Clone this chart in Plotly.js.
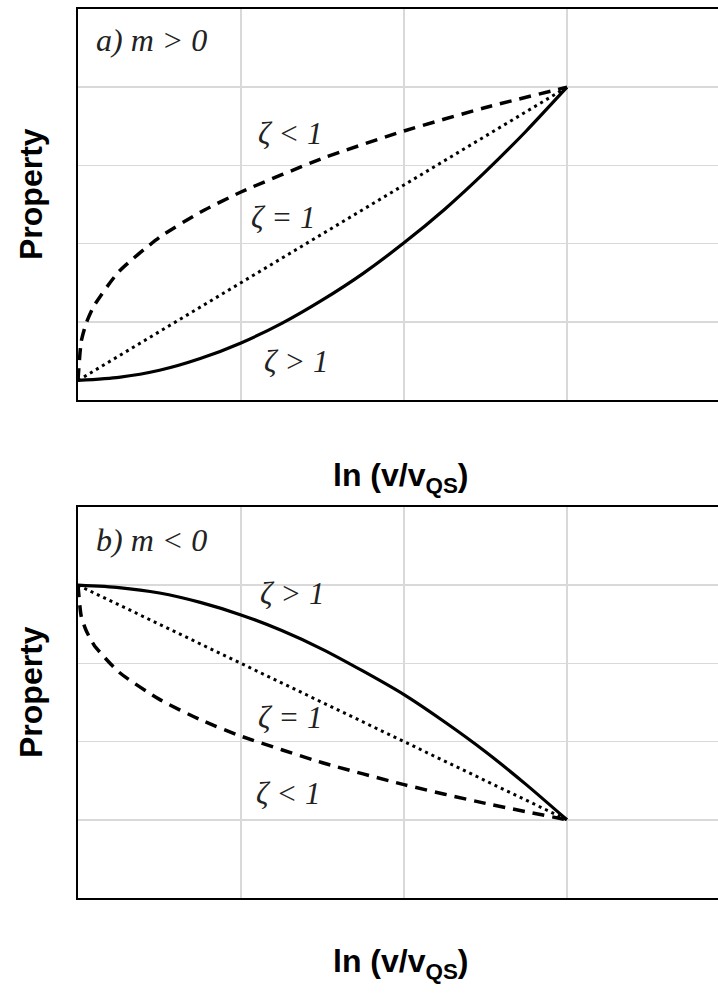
<!DOCTYPE html>
<html>
<head>
<meta charset="utf-8">
<script src="https://cdn.plot.ly/plotly-3.0.1.min.js"></script>
<style>html,body{margin:0;padding:0;background:#fff;}#chart{width:718px;height:998px;}</style>
</head>
<body>
<div id="chart"></div>
<script>
// Panel a) m > 0
const xA_dash = [0, 0.02, 0.05, 0.1, 0.25, 0.5, 0.75, 1, 1.5, 2, 2.5, 3];
const yA_dash = [0.25, 0.75, 0.98, 1.21, 1.64, 2.08, 2.40, 2.66, 3.09, 3.44, 3.74, 4.0];
const xA_solid = [0, 0.25, 0.5, 0.75, 1, 1.25, 1.5, 1.75, 2, 2.25, 2.5, 2.75, 3];
const yA_solid = [0.25, 0.29, 0.38, 0.53, 0.73, 0.98, 1.28, 1.62, 2.01, 2.44, 2.92, 3.44, 4.0];
const xA_dot = [0, 3];
const yA_dot = [0.25, 4.0];
// Panel b) m < 0
const xB_dash = [0, 0.02, 0.05, 0.1, 0.25, 0.5, 0.75, 1, 1.5, 2, 2.5, 3];
const yB_dash = [4.0, 3.60, 3.42, 3.23, 2.89, 2.54, 2.28, 2.07, 1.73, 1.45, 1.21, 1.0];
const xB_solid = [0, 0.25, 0.5, 0.75, 1, 1.25, 1.5, 1.75, 2, 2.25, 2.5, 2.75, 3];
const yB_solid = [4.0, 3.97, 3.90, 3.78, 3.62, 3.42, 3.18, 2.90, 2.60, 2.25, 1.87, 1.45, 1.0];
const xB_dot = [0, 3];
const yB_dot = [4.0, 1.0];

const panelLabels = ["a) m > 0", "b) m < 0"];
const xTitle = "ln (v/v<sub>QS</sub>)";
const yTitle = "Property";

function tr(x, y, dash, xa, ya, w) {
  return {x: x, y: y, type: 'scatter', mode: 'lines', xaxis: xa, yaxis: ya,
    line: {color: '#000', width: w, dash: dash, shape: 'spline', smoothing: 0.6},
    hoverinfo: 'skip', showlegend: false};
}
const data = [
  tr(xA_dash, yA_dash, '12px,8px', 'x', 'y', 3.5),
  tr(xA_dot, yA_dot, '3px,4px', 'x', 'y', 3),
  tr(xA_solid, yA_solid, 'solid', 'x', 'y', 3.2),
  tr(xB_dash, yB_dash, '12px,8px', 'x2', 'y2', 3.5),
  tr(xB_dot, yB_dot, '3px,4px', 'x2', 'y2', 3),
  tr(xB_solid, yB_solid, 'solid', 'x2', 'y2', 3.2)
];

const xRange = [0, 640/163];
const ax = {range: xRange, showgrid: true, gridcolor: '#d9d9d9', gridwidth: 1.5, dtick: 1, tick0: 0,
  showticklabels: false, ticks: '', zeroline: false, showline: true, linecolor: '#000', linewidth: 2, mirror: true, fixedrange: true};
const ay = {range: [0, 5], showgrid: true, gridcolor: '#d9d9d9', gridwidth: 1.5, dtick: 1, tick0: 0,
  showticklabels: false, ticks: '', zeroline: false, showline: true, linecolor: '#000', linewidth: 2, mirror: false, fixedrange: true};

const serifFam = 'Liberation Serif, Times New Roman, serif';
const sans = {family: 'Liberation Sans, Arial, sans-serif', size: 32, color: '#000'};
function lab(text, x, y, xr, yr, anchor, size) {
  return {text: '<i>' + text + '</i>', x: x, y: y, xref: xr, yref: yr, showarrow: false,
    xanchor: anchor || 'center', yanchor: 'middle', font: {family: serifFam, size: size || 31, color: '#222'}};
}
// paper x: 0 at pixel 78, 1 at pixel 718
function px(p) { return (p - 78) / 640; }
function py(p) { return 1 - p / 998; }
const annotations = [
  lab(panelLabels[0], 0.1, 4.6, 'x', 'y', 'left', 32),
  lab('ζ < 1', 1.30, 3.41, 'x', 'y'),
  lab('ζ = 1', 1.26, 2.33, 'x', 'y'),
  lab('ζ > 1', 1.34, 0.49, 'x', 'y'),
  lab(panelLabels[1], 0.1, 4.58, 'x2', 'y2', 'left', 32),
  lab('ζ > 1', 1.31, 3.90, 'x2', 'y2'),
  lab('ζ = 1', 1.30, 2.31, 'x2', 'y2'),
  lab('ζ < 1', 1.29, 1.34, 'x2', 'y2'),
  {text: '<b>' + xTitle + '</b>', x: px(400), y: py(478), xref: 'paper', yref: 'paper', showarrow: false, xanchor: 'center', yanchor: 'middle', font: sans},
  {text: '<b>' + xTitle + '</b>', x: px(400), y: py(963), xref: 'paper', yref: 'paper', showarrow: false, xanchor: 'center', yanchor: 'middle', font: sans},
  {text: '<b>' + yTitle + '</b>', x: px(31), y: py(194), xref: 'paper', yref: 'paper', showarrow: false, xanchor: 'center', yanchor: 'middle', textangle: -90, font: sans},
  {text: '<b>' + yTitle + '</b>', x: px(31), y: py(692), xref: 'paper', yref: 'paper', showarrow: false, xanchor: 'center', yanchor: 'middle', textangle: -90, font: sans}
];

const layout = {
  width: 718, height: 998,
  margin: {l: 78, r: 0, t: 0, b: 0},
  paper_bgcolor: '#fff', plot_bgcolor: '#fff',
  xaxis: Object.assign({}, ax, {domain: [0, 1], anchor: 'y'}),
  yaxis: Object.assign({}, ay, {domain: [(998-400)/998, (998-9)/998], anchor: 'x'}),
  xaxis2: Object.assign({}, ax, {domain: [0, 1], anchor: 'y2'}),
  yaxis2: Object.assign({}, ay, {domain: [(998-898)/998, (998-507)/998], anchor: 'x2'}),
  annotations: annotations,
  showlegend: false
};
Plotly.newPlot('chart', data, layout, {displayModeBar: false, staticPlot: true});
</script>
</body>
</html>
